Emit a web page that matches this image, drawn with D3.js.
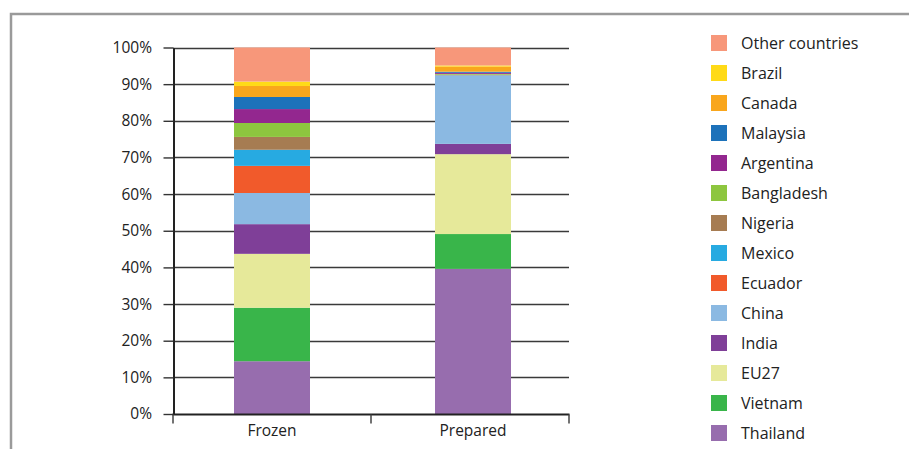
<!DOCTYPE html>
<html>
<head>
<meta charset="utf-8">
<script src="https://cdn.jsdelivr.net/npm/d3@7"></script>
<style>
  html, body { margin: 0; padding: 0; background: #fff; }
  svg { display: block; font-family: "Open Sans", "DejaVu Sans", sans-serif; }
</style>
</head>
<body>
<svg id="chart" width="909" height="449"></svg>
<script>
// ---- data ----
const categories = ["Frozen", "Prepared"];
const seriesNames = ["Thailand", "Vietnam", "EU27", "India", "China", "Ecuador", "Mexico",
  "Nigeria", "Bangladesh", "Argentina", "Malaysia", "Canada", "Brazil", "Other countries"];
const frozenValues   = [14.4, 14.6, 14.7, 8.1, 8.5, 7.4, 4.4, 3.5, 3.8, 3.8, 3.3, 3.0, 1.2, 9.3];
const preparedValues = [39.6, 9.5, 21.8, 2.8, 18.6, 0.1, 0.1, 0.1, 0.2, 0.3, 0.3, 1.4, 0.3, 4.9];
const seriesColors = ["#976DAE", "#39B54A", "#E6E99A", "#7F3F98", "#8BB9E2", "#F15A2B", "#27AAE1",
  "#A67C52", "#8DC63F", "#93278F", "#1D72BA", "#F9A61C", "#FFDA17", "#F7977A"];
const yTicks = [0, 10, 20, 30, 40, 50, 60, 70, 80, 90, 100];

// ---- build table ----
const table = categories.map((c, i) => {
  const row = { category: c };
  const vals = i === 0 ? frozenValues : preparedValues;
  seriesNames.forEach((s, j) => row[s] = vals[j]);
  return row;
});
const stacked = d3.stack().keys(seriesNames)(table);

const svg = d3.select("#chart");

// frame
svg.append("rect")
  .attr("x", 11).attr("y", 14)
  .attr("width", 1000).attr("height", 1000)
  .attr("fill", "none").attr("stroke", "#9a9a9a").attr("stroke-width", 2.5);

const x = d3.scaleBand().domain(categories).range([234, 511])
  .paddingInner(125 / 201).paddingOuter(0);
const y = d3.scaleLinear().domain([0, 100]).range([414, 47.5]);
const color = d3.scaleOrdinal().domain(seriesNames).range(seriesColors);

// gridlines
svg.append("g")
  .selectAll("line")
  .data(yTicks.filter(t => t > 0))
  .join("line")
  .attr("x1", 173).attr("x2", 569)
  .attr("y1", d => Math.round(y(d)) + 0.5)
  .attr("y2", d => Math.round(y(d)) + 0.5)
  .attr("stroke", "#3a3a3a").attr("stroke-width", 1.4);

// bars
svg.append("g")
  .selectAll("g")
  .data(stacked)
  .join("g")
  .attr("fill", d => color(d.key))
  .selectAll("rect")
  .data(d => d)
  .join("rect")
  .attr("x", d => x(d.data.category))
  .attr("width", x.bandwidth())
  .attr("y", d => y(d[1]))
  .attr("height", d => y(d[0]) - y(d[1]));

// y axis
const yAxis = d3.axisLeft(y).tickValues(yTicks).tickFormat(d => d + "%")
  .tickSize(10).tickSizeOuter(0).tickPadding(11.5);
const gy = svg.append("g").attr("transform", "translate(173.5,0)").call(yAxis);
gy.select(".domain").attr("stroke", "#222").attr("stroke-width", 2);
gy.selectAll(".tick line").attr("stroke", "#333").attr("stroke-width", 1.4);
gy.selectAll(".tick text").attr("fill", "#222").style("font-size", "15.5px")
  .style("font-family", "'Open Sans', sans-serif");

// x axis
const xEdge = d3.scaleLinear().domain([0, 2]).range([173, 569]);
const gx = svg.append("g").attr("transform", "translate(0,414.5)");
gx.append("line").attr("x1", 172.5).attr("x2", 569.5)
  .attr("stroke", "#222").attr("stroke-width", 2);
gx.selectAll("line.tk").data([0, 1, 2]).join("line").attr("class", "tk")
  .attr("x1", d => xEdge(d)).attr("x2", d => xEdge(d))
  .attr("y1", 0).attr("y2", 9)
  .attr("stroke", "#444").attr("stroke-width", 1.5);
gx.selectAll("text").data(categories).join("text")
  .attr("x", d => x(d) + x.bandwidth() / 2)
  .attr("y", 21)
  .attr("text-anchor", "middle")
  .attr("fill", "#222")
  .style("font-size", "15.5px")
  .text(d => d);

// legend
const legendOrder = seriesNames.slice().reverse();
const lg = svg.append("g").attr("transform", "translate(711,35)");
const item = lg.selectAll("g").data(legendOrder).join("g")
  .attr("transform", (d, i) => `translate(0,${i * 30})`);
item.append("rect").attr("width", 16).attr("height", 16).attr("fill", d => color(d));
item.append("text").attr("x", 30).attr("y", 8).attr("dy", "0.36em")
  .attr("fill", "#222").style("font-size", "16px").text(d => d);
</script>
</body>
</html>
